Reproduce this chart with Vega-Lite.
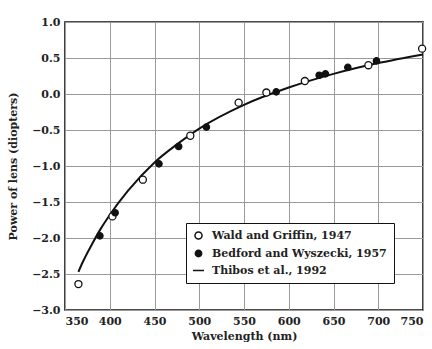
{
  "$schema": "https://vega.github.io/schema/vega-lite/v6.json",
  "width": 358,
  "height": 288,
  "autosize": {"type": "none"},
  "padding": {"left": 65, "top": 22, "right": 9, "bottom": 39},
  "background": "white",
  "config": {
    "view": {"stroke": "#111", "strokeWidth": 1.6},
    "font": "DejaVu Serif",
    "axis": {
      "labelFont": "DejaVu Serif",
      "labelFontWeight": "bold",
      "labelFontSize": 11,
      "labelColor": "#222",
      "titleFont": "DejaVu Serif",
      "titleFontWeight": "bold",
      "titleFontSize": 11,
      "titleColor": "#222",
      "gridColor": "#9a9a9a",
      "gridWidth": 1,
      "gridOpacity": 1,
      "domain": false,
      "ticks": false
    },
    "legend": {
      "labelFont": "DejaVu Serif",
      "labelFontWeight": "bold",
      "labelFontSize": 11,
      "labelColor": "#222"
    }
  },
  "data": {
    "values": [
      {"series": "Wald and Griffin, 1947", "wavelength": 365, "power": -2.64},
      {"series": "Wald and Griffin, 1947", "wavelength": 403, "power": -1.7},
      {"series": "Wald and Griffin, 1947", "wavelength": 437, "power": -1.19},
      {"series": "Wald and Griffin, 1947", "wavelength": 490, "power": -0.58},
      {"series": "Wald and Griffin, 1947", "wavelength": 544, "power": -0.12},
      {"series": "Wald and Griffin, 1947", "wavelength": 575, "power": 0.02},
      {"series": "Wald and Griffin, 1947", "wavelength": 618, "power": 0.18},
      {"series": "Wald and Griffin, 1947", "wavelength": 689, "power": 0.4},
      {"series": "Wald and Griffin, 1947", "wavelength": 749, "power": 0.63},
      {"series": "Bedford and Wyszecki, 1957", "wavelength": 389, "power": -1.97},
      {"series": "Bedford and Wyszecki, 1957", "wavelength": 406, "power": -1.65},
      {"series": "Bedford and Wyszecki, 1957", "wavelength": 455, "power": -0.97},
      {"series": "Bedford and Wyszecki, 1957", "wavelength": 477, "power": -0.73},
      {"series": "Bedford and Wyszecki, 1957", "wavelength": 508, "power": -0.46},
      {"series": "Bedford and Wyszecki, 1957", "wavelength": 586, "power": 0.03},
      {"series": "Bedford and Wyszecki, 1957", "wavelength": 634, "power": 0.26},
      {"series": "Bedford and Wyszecki, 1957", "wavelength": 641, "power": 0.28},
      {"series": "Bedford and Wyszecki, 1957", "wavelength": 666, "power": 0.37},
      {"series": "Bedford and Wyszecki, 1957", "wavelength": 698, "power": 0.46},
      {"series": "Thibos et al., 1992", "wavelength": 365, "power": -2.47},
      {"series": "Thibos et al., 1992", "wavelength": 370, "power": -2.33},
      {"series": "Thibos et al., 1992", "wavelength": 380, "power": -2.09},
      {"series": "Thibos et al., 1992", "wavelength": 390, "power": -1.87},
      {"series": "Thibos et al., 1992", "wavelength": 400, "power": -1.68},
      {"series": "Thibos et al., 1992", "wavelength": 420, "power": -1.35},
      {"series": "Thibos et al., 1992", "wavelength": 450, "power": -0.95},
      {"series": "Thibos et al., 1992", "wavelength": 475, "power": -0.70},
      {"series": "Thibos et al., 1992", "wavelength": 500, "power": -0.48},
      {"series": "Thibos et al., 1992", "wavelength": 550, "power": -0.15},
      {"series": "Thibos et al., 1992", "wavelength": 600, "power": 0.09},
      {"series": "Thibos et al., 1992", "wavelength": 650, "power": 0.28},
      {"series": "Thibos et al., 1992", "wavelength": 700, "power": 0.43},
      {"series": "Thibos et al., 1992", "wavelength": 750, "power": 0.55}
    ]
  },
  "encoding": {
    "x": {
      "field": "wavelength", "type": "quantitative",
      "scale": {"domain": [350, 750], "nice": false, "zero": false},
      "axis": {"values": [350, 400, 450, 500, 550, 600, 650, 700, 750], "title": "Wavelength (nm)", "labelPadding": 5, "titlePadding": 4}
    },
    "y": {
      "field": "power", "type": "quantitative",
      "scale": {"domain": [-3, 1], "nice": false, "zero": false},
      "axis": {"values": [-3, -2.5, -2, -1.5, -1, -0.5, 0, 0.5, 1], "format": ".1f", "title": "Power of lens (diopters)", "labelPadding": 5, "titlePadding": 13}
    }
  },
  "layer": [
    {
      "transform": [{"filter": "datum.series === 'Thibos et al., 1992'"}],
      "mark": {"type": "line", "color": "#111", "strokeWidth": 2, "interpolate": "monotone"}
    },
    {
      "transform": [{"filter": "datum.series !== 'Thibos et al., 1992'"}],
      "mark": {"type": "point", "filled": true, "stroke": "#111", "strokeWidth": 1.3, "opacity": 1},
      "encoding": {
        "shape": {
          "field": "series", "type": "nominal",
          "scale": {"domain": ["Wald and Griffin, 1947", "Bedford and Wyszecki, 1957", "Thibos et al., 1992"], "range": ["circle", "circle", "M-2,0L2,0"]},
          "legend": {"title": null, "orient": "none", "legendX": 121, "legendY": 201, "strokeColor": "#111", "fillColor": "white", "padding": 7, "rowPadding": 4, "labelLimit": 300, "labelOffset": 8,
            "encode": {"symbols": {"update": {"stroke": {"value": "#111"}, "strokeWidth": {"value": 1.5}}}}}
        },
        "fill": {
          "field": "series", "type": "nominal",
          "scale": {"domain": ["Wald and Griffin, 1947", "Bedford and Wyszecki, 1957", "Thibos et al., 1992"], "range": ["white", "#111", "#111"]},
          "legend": {"title": null, "orient": "none", "legendX": 121, "legendY": 201, "strokeColor": "#111", "fillColor": "white", "padding": 7, "rowPadding": 4, "labelLimit": 300, "labelOffset": 8,
            "encode": {"symbols": {"update": {"stroke": {"value": "#111"}, "strokeWidth": {"value": 1.5}}}}}
        },
        "size": {
          "field": "series", "type": "nominal",
          "scale": {"domain": ["Wald and Griffin, 1947", "Bedford and Wyszecki, 1957", "Thibos et al., 1992"], "range": [50, 30, 60]},
          "legend": {"title": null, "orient": "none", "legendX": 121, "legendY": 201, "strokeColor": "#111", "fillColor": "white", "padding": 7, "rowPadding": 4, "labelLimit": 300, "labelOffset": 8,
            "encode": {"symbols": {"update": {"stroke": {"value": "#111"}, "strokeWidth": {"value": 1.5}}}}}
        }
      }
    }
  ]
}
